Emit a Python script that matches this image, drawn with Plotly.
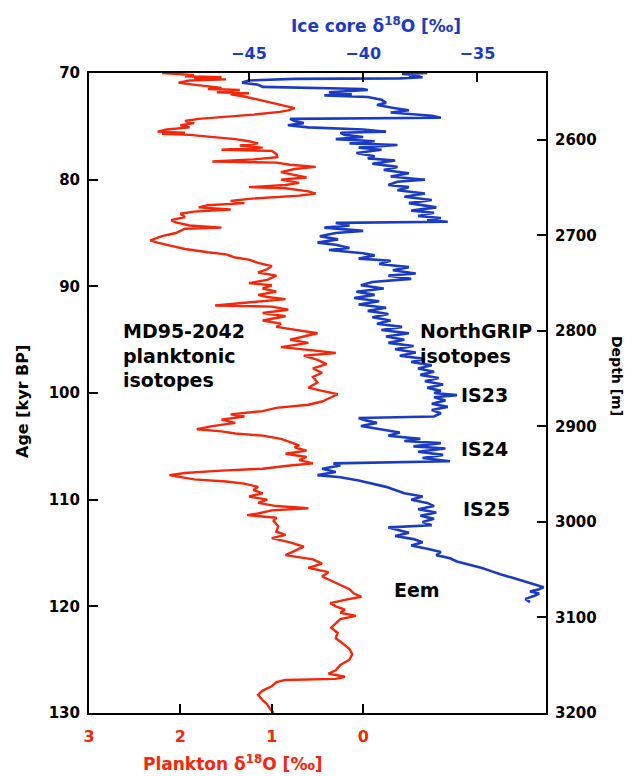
import plotly.graph_objects as go

# ---- Data ----
plankton_age = [70.0, 70.1, 70.2, 70.3, 70.4, 70.5, 70.6, 70.7, 70.9, 71.0, 71.2, 71.4, 71.5, 71.6, 71.8, 71.9,
                72.0, 72.2, 72.5, 72.7, 72.9, 73.1, 73.3, 73.5, 73.65, 73.9, 74.1, 74.3, 74.5, 74.7, 74.9, 75.1,
                75.3, 75.5, 75.6, 75.7, 75.8, 76.0, 76.2, 76.4, 76.6, 76.8, 77.0, 77.2, 77.3, 77.6, 77.9, 78.1,
                78.3, 78.4, 78.6, 78.8, 79.0, 79.3, 79.5, 79.8, 80.0, 80.3, 80.5, 80.7, 80.8, 81.1, 81.3, 81.5,
                81.8, 82.0, 82.2, 82.4, 82.6, 82.8, 83.0, 83.2, 83.5, 83.8, 84.0, 84.3, 84.5, 84.6, 85.0, 85.3,
                85.7, 85.9, 86.2, 86.5, 86.8, 87.0, 87.3, 87.5, 87.8, 88.1, 88.4, 88.7, 89.0, 89.4, 89.7, 89.9,
                90.2, 90.5, 90.8, 91.0, 91.2, 91.5, 91.8, 91.9, 92.2, 92.5, 92.8, 93.2, 93.5, 93.8, 94.1, 94.4,
                94.7, 95.0, 95.3, 95.7, 96.0, 96.25, 96.5, 96.9, 97.3, 97.7, 98.1, 98.5, 99.0, 99.5, 99.8, 100.1,
                100.4, 100.8, 101.1, 101.4, 101.7, 102.0, 102.2, 102.5, 102.8, 103.1, 103.4, 103.6, 103.8, 104.0,
                104.3, 104.6, 104.9, 105.1, 105.4, 105.7, 106.0, 106.3, 106.6, 106.8, 107.1, 107.3, 107.5, 107.7,
                107.9, 108.1, 108.3, 108.5, 108.8, 109.1, 109.4, 109.7, 110.0, 110.3, 110.6, 110.8, 111.0, 111.3,
                111.45, 111.7, 112.0, 112.5, 113.0, 113.3, 113.6, 114.0, 114.4, 114.8, 115.2, 115.6, 116.0, 116.4,
                116.8, 117.2, 117.6, 118.0, 118.4, 118.8, 119.1, 119.4, 119.7, 120.0, 120.3, 120.6, 120.9, 121.2,
                121.6, 122.0, 122.5, 123.0, 123.5, 124.0, 124.5, 125.0, 125.5, 126.0, 126.3, 126.6, 126.8, 126.9,
                127.1, 127.5, 127.9, 128.3, 128.8, 129.2, 129.6, 130.0]
plankton_d18o = [2.20, 2.05, 1.85, 1.95, 1.55, 1.85, 1.50, 1.90, 2.02, 1.95, 1.75, 1.55, 1.70, 1.35, 1.60, 1.25,
                 1.45, 1.30, 1.15, 1.05, 0.98, 0.85, 0.75, 0.82, 0.91, 1.20, 1.50, 1.80, 1.95, 1.85, 2.00, 1.90,
                 2.15, 2.25, 1.95, 2.20, 1.90, 1.60, 1.40, 1.25, 1.15, 1.35, 1.10, 1.55, 1.00, 0.95, 0.94, 1.20,
                 1.65, 0.95, 0.80, 0.52, 0.75, 0.90, 0.80, 0.62, 0.90, 0.70, 0.85, 1.25, 0.85, 0.60, 0.52, 0.70,
                 1.25, 1.45, 1.30, 1.70, 1.80, 1.45, 1.85, 2.00, 1.95, 2.10, 2.05, 1.90, 1.55, 1.95, 2.05, 2.20,
                 2.33, 2.25, 2.10, 1.95, 1.70, 1.50, 1.40, 1.25, 1.15, 1.00, 1.05, 1.15, 0.95, 1.05, 1.25, 1.00,
                 1.10, 0.95, 1.15, 1.05, 0.85, 1.20, 1.62, 1.00, 0.82, 1.10, 0.85, 1.10, 0.90, 0.95, 0.70, 0.50,
                 0.65, 0.80, 0.60, 0.90, 0.55, 0.30, 0.65, 0.50, 0.40, 0.55, 0.45, 0.55, 0.50, 0.60, 0.45, 0.28,
                 0.35, 0.45, 0.60, 0.95, 1.10, 1.45, 1.30, 1.55, 1.40, 1.65, 1.82, 1.55, 1.40, 1.10,
                 0.90, 0.80, 0.70, 0.75, 0.62, 0.85, 0.62, 0.70, 0.55, 0.80, 1.10, 1.60, 1.95, 2.12,
                 2.00, 1.85, 1.50, 1.30, 1.15, 1.20, 1.10, 1.25, 1.05, 1.15, 0.95, 0.60, 1.00, 1.15,
                 1.27, 0.95, 0.98, 0.93, 0.95, 0.85, 1.00, 0.80, 0.65, 0.75, 0.85, 0.55, 0.45, 0.60,
                 0.38, 0.45, 0.35, 0.25, 0.15, 0.10, 0.02, 0.20, 0.36, 0.30, 0.20, 0.25, 0.08, 0.25,
                 0.30, 0.35, 0.28, 0.30, 0.22, 0.15, 0.12, 0.15, 0.25, 0.30, 0.38, 0.20, 0.30, 0.85,
                 0.95, 1.00, 1.10, 1.15, 1.10, 1.05, 1.02, 0.98]

ice_age = [70.0, 70.1, 70.2, 70.3, 70.4, 70.5, 70.55, 70.7, 70.9, 71.1, 71.3, 71.4, 71.5, 71.6, 71.8, 72.0,
           72.1, 72.25, 72.5, 72.8, 73.0, 73.3, 73.5, 73.7, 73.9, 74.0, 74.2, 74.3, 74.5, 74.7, 74.9, 75.1,
           75.3, 75.5, 75.6, 75.8, 76.0, 76.2, 76.4, 76.6, 76.75, 77.0, 77.2, 77.5, 77.8, 78.0, 78.2, 78.5,
           78.8, 79.1, 79.4, 79.7, 80.0, 80.2, 80.5, 80.7, 81.0, 81.3, 81.6, 81.9, 82.2, 82.6, 82.9, 83.1,
           83.4, 83.6, 83.8, 83.95, 84.05, 84.3, 84.5, 84.8, 85.0, 85.3, 85.6, 85.9, 86.1, 86.4, 86.6, 86.9,
           87.1, 87.4, 87.6, 87.9, 88.2, 88.5, 88.8, 89.0, 89.3, 89.6, 89.9, 90.2, 90.5, 90.8, 91.1, 91.4,
           91.7, 92.0, 92.3, 92.6, 92.9, 93.2, 93.5, 93.8, 94.1, 94.4, 94.7, 95.0, 95.3, 95.6, 95.9, 96.2,
           96.5, 96.8, 97.1, 97.4, 97.7, 98.0, 98.3, 98.6, 98.9, 99.2, 99.5, 99.8, 100.0, 100.2, 100.4, 100.7,
           101.0, 101.3, 101.6, 101.9, 102.2, 102.35, 102.5, 102.8, 103.1, 103.4, 103.7, 104.0, 104.3, 104.5,
           104.7, 105.0, 105.2, 105.5, 105.8, 106.1, 106.4, 106.6, 106.8, 107.1, 107.4, 107.7, 107.9, 108.2,
           108.5, 108.8, 109.1, 109.4, 109.7, 110.0, 110.3, 110.6, 110.9, 111.2, 111.5, 111.8, 112.1, 112.4,
           112.6, 112.8, 113.1, 113.4, 113.7, 114.0, 114.3, 114.6, 114.9, 115.2, 115.5, 115.8, 116.1, 116.4,
           116.7, 117.0, 117.3, 117.6, 117.9, 118.2, 118.4, 118.6, 118.8, 119.0, 119.3, 119.6]
ice_d18o = [-37.2, -38.3, -37.5, -38.0, -37.4, -38.4, -43.0, -45.0, -45.3, -44.6, -44.4, -42.0, -40.0, -39.8, -41.5, -40.5,
            -41.7, -39.8, -39.2, -39.0, -39.4, -38.6, -38.0, -38.8, -37.6, -37.0, -36.6, -43.2, -43.0, -42.6, -43.3, -42.4,
            -40.0, -39.0, -41.0, -40.8, -40.0, -41.2, -39.5, -40.6, -38.5, -40.2, -39.2, -40.3, -39.5, -39.8, -38.6, -39.6,
            -38.5, -39.1, -38.0, -38.8, -37.3, -38.5, -38.9, -38.0, -38.5, -37.3, -38.2, -37.0, -38.0, -36.8, -37.9, -36.9,
            -37.6, -36.6, -37.2, -36.3, -41.2, -40.6, -41.7, -40.0, -41.2, -41.9, -41.1, -42.0, -41.2, -40.6, -41.5, -40.0,
            -39.5, -40.2, -38.8, -39.3, -38.0, -38.7, -37.7, -38.9, -37.9, -39.6, -40.1, -39.1, -40.3, -39.5, -40.4, -39.3,
            -40.2, -39.0, -39.8, -38.9, -39.6, -38.8, -39.4, -38.3, -39.2, -38.0, -39.0, -38.2, -38.9, -37.8, -38.6, -37.7,
            -38.4, -37.3, -37.9, -37.0, -37.6, -36.9, -37.5, -36.7, -37.3, -36.5, -37.2, -36.6, -36.9, -35.9, -36.9, -36.4,
            -37.0, -36.3, -37.0, -36.6, -36.9, -40.2, -40.0, -39.4, -40.1, -39.2, -38.4, -38.9, -37.5, -38.2,
            -36.6, -37.8, -36.4, -37.6, -36.5, -37.4, -36.2, -41.3, -41.0, -41.8, -41.2, -42.0, -41.0, -40.2,
            -39.6, -39.0, -38.6, -38.2, -37.4, -37.9, -37.2, -36.9, -37.6, -36.8, -37.5, -36.9, -37.4, -37.0,
            -38.9, -38.5, -38.0, -38.6, -37.8, -37.4, -37.9, -37.2, -36.6, -36.8, -36.2, -35.9, -35.3, -34.8,
            -34.4, -34.0, -33.5, -33.0, -32.6, -32.1, -32.3, -32.7, -32.3, -32.5, -32.9, -32.7]

age_ticks = [70, 80, 90, 100, 110, 120, 130]
depth_ticks = [2600, 2700, 2800, 2900, 3000, 3100, 3200]
plankton_ticks = [3, 2, 1, 0]
ice_ticks = [-45, -40, -35]

RED = "#f5260a"
BLUE = "#1b3cc2"
FONT = "DejaVu Sans"

# plot area in pixels
W, H = 634, 776
L, R, T, B = 89, 546, 73, 713


def px(xp):
    return (xp - L) / (R - L)


def py(yp):
    return (B - yp) / (B - T)


fig = go.Figure()
fig.add_trace(go.Scatter(x=plankton_d18o, y=plankton_age, mode="lines",
                         line=dict(color=RED, width=2.4), xaxis="x", yaxis="y",
                         showlegend=False, hoverinfo="skip"))
fig.add_trace(go.Scatter(x=ice_d18o, y=ice_age, mode="lines",
                         line=dict(color=BLUE, width=2.6), xaxis="x2", yaxis="y",
                         showlegend=False, hoverinfo="skip"))
# invisible helper trace so the depth axis is drawn
fig.add_trace(go.Scatter(x=[ice_ticks[0], ice_ticks[-1]], y=[depth_ticks[0], depth_ticks[-1]],
                         mode="markers", marker=dict(opacity=0), xaxis="x2", yaxis="y2",
                         showlegend=False, hoverinfo="skip"))

axcommon = dict(showgrid=False, zeroline=False, showline=True, linecolor="black", linewidth=2,
                ticks="inside", ticklen=9, tickwidth=2, tickcolor="black")

fig.update_layout(
    width=W, height=H,
    margin=dict(l=L, r=W - R, t=T, b=H - B, pad=0),
    plot_bgcolor="white", paper_bgcolor="white",
    xaxis=dict(range=[3, -2], tickvals=plankton_ticks, side="bottom", anchor="y",
               tickfont=dict(family=FONT, size=16, color=RED, weight="bold"),
               ticklabelstandoff=8, **axcommon),
    xaxis2=dict(range=[-52, -32], tickvals=ice_ticks, side="top", overlaying="x", anchor="y",
                tickfont=dict(family=FONT, size=16, color=BLUE, weight="bold"),
                ticklabelstandoff=6, **axcommon),
    yaxis=dict(range=[130, 70], tickvals=age_ticks, side="left", anchor="x",
               tickfont=dict(family=FONT, size=15, color="black", weight="bold"),
               ticklabelstandoff=4, **axcommon),
    yaxis2=dict(range=[3200, 2530], tickvals=depth_ticks, side="right", overlaying="y", anchor="x2",
                tickfont=dict(family=FONT, size=15, color="black", weight="bold"),
                ticklabelstandoff=4, **axcommon),
)


def ann(text, xp, yp, size, color="black", xanchor="center", yanchor="middle", angle=0, align="center"):
    fig.add_annotation(text=text, x=px(xp), y=py(yp), xref="paper", yref="paper",
                       showarrow=False, xanchor=xanchor, yanchor=yanchor, textangle=angle, align=align,
                       font=dict(family=FONT, size=size, color=color, weight="bold"))


ann("Ice core δ<sup>18</sup>O [‰]", 376, 25, 17, BLUE)
ann("Plankton δ<sup>18</sup>O [‰]", 233, 763, 17, RED)
ann("Age [kyr BP]", 22, 402, 16, angle=-90)
ann("Depth [m]", 617, 376, 14, angle=90)
ann("MD95-2042<br>planktonic<br>isotopes", 121, 318, 19, xanchor="left", yanchor="top", align="left")
ann("NorthGRIP<br>isotopes", 418, 318, 19, xanchor="left", yanchor="top", align="left")
ann("IS23", 459, 395, 19, xanchor="left")
ann("IS24", 459, 449, 19, xanchor="left")
ann("IS25", 461, 509, 19, xanchor="left")
ann("Eem", 392, 590, 19, xanchor="left")

fig.write_html("out.html")
